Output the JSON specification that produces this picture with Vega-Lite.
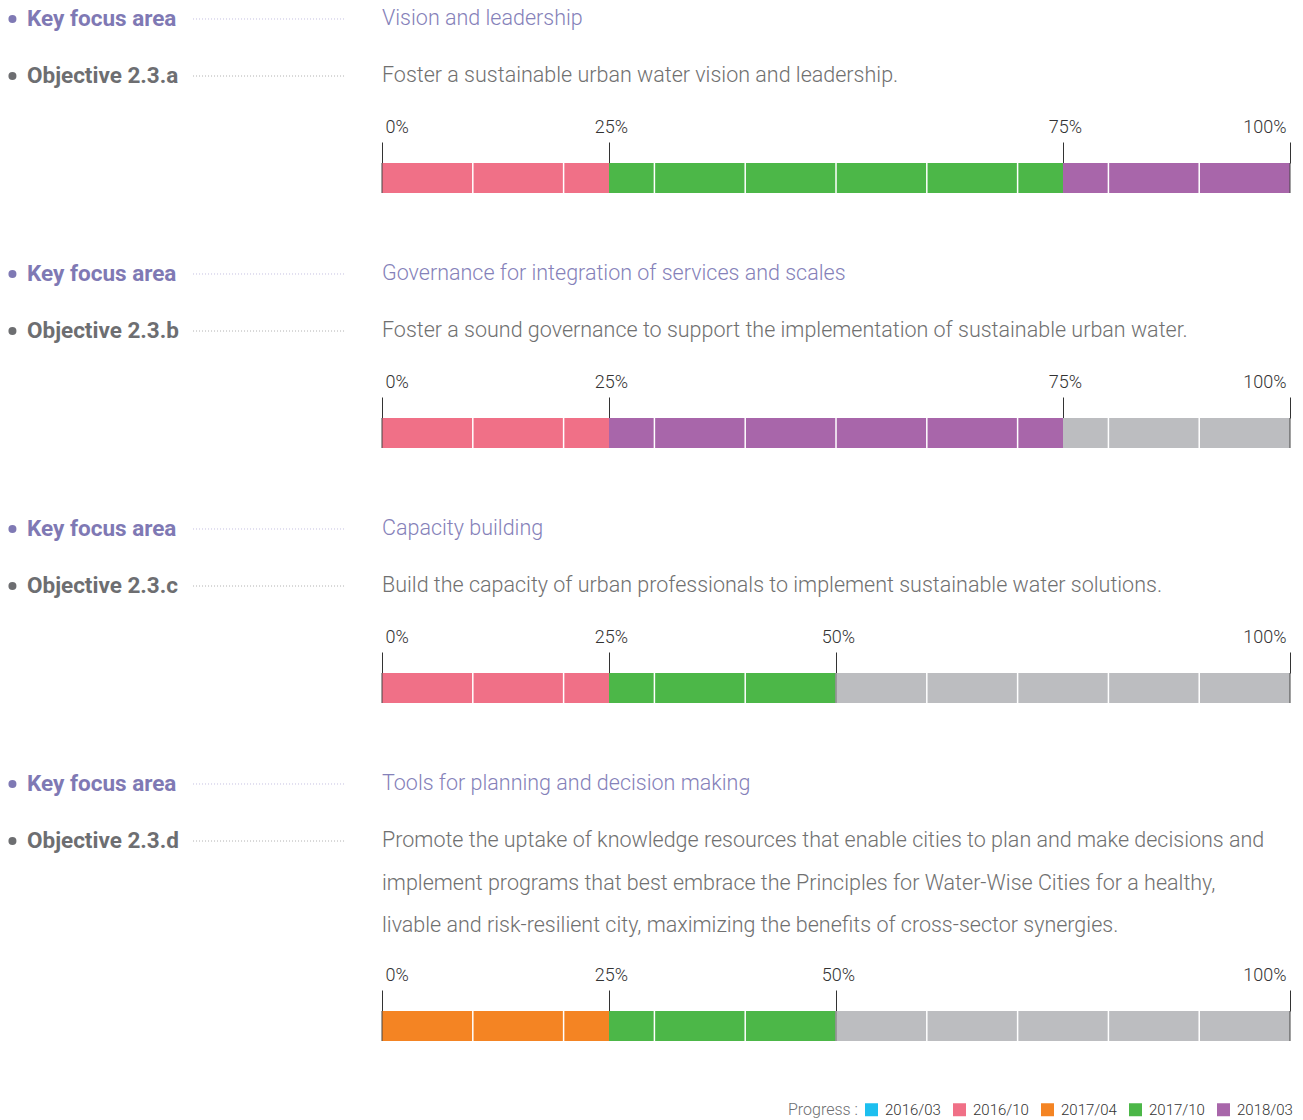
{
  "$schema": "https://vega.github.io/schema/vega-lite/v6.json",
  "padding": 0,
  "background": "white",
  "spacing": 61,
  "config": {
    "view": {"stroke": null},
    "font": "Roboto, sans-serif"
  },
  "datasets": {
    "texts": [
      {"block": "a", "row": "key", "label": "Key focus area", "text": "Vision and leadership"},
      {"block": "a", "row": "obj", "label": "Objective 2.3.a", "text": "Foster a sustainable urban water vision and leadership."},
      {"block": "b", "row": "key", "label": "Key focus area", "text": "Governance for integration of services and scales"},
      {"block": "b", "row": "obj", "label": "Objective 2.3.b", "text": "Foster a sound governance to support the implementation of sustainable urban water."},
      {"block": "c", "row": "key", "label": "Key focus area", "text": "Capacity building"},
      {"block": "c", "row": "obj", "label": "Objective 2.3.c", "text": "Build the capacity of urban professionals to implement sustainable water solutions."},
      {"block": "d", "row": "key", "label": "Key focus area", "text": "Tools for planning and decision making"},
      {"block": "d", "row": "obj", "label": "Objective 2.3.d", "text": "Promote the uptake of knowledge resources that enable cities to plan and make decisions and\nimplement programs that best embrace the Principles for Water-Wise Cities for a healthy,\nlivable and risk-resilient city, maximizing the benefits of cross-sector synergies."}
    ],
    "segments": [
      {"block": "a", "start": 0, "end": 25, "period": "2016/10"},
      {"block": "a", "start": 25, "end": 75, "period": "2017/10"},
      {"block": "a", "start": 75, "end": 100, "period": "2018/03"},
      {"block": "b", "start": 0, "end": 25, "period": "2016/10"},
      {"block": "b", "start": 25, "end": 75, "period": "2018/03"},
      {"block": "b", "start": 75, "end": 100, "period": "remaining"},
      {"block": "c", "start": 0, "end": 25, "period": "2016/10"},
      {"block": "c", "start": 25, "end": 50, "period": "2017/10"},
      {"block": "c", "start": 50, "end": 100, "period": "remaining"},
      {"block": "d", "start": 0, "end": 25, "period": "2017/04"},
      {"block": "d", "start": 25, "end": 50, "period": "2017/10"},
      {"block": "d", "start": 50, "end": 100, "period": "remaining"}
    ],
    "grid": [{"pct": 10}, {"pct": 20}, {"pct": 30}, {"pct": 40}, {"pct": 50}, {"pct": 60}, {"pct": 70}, {"pct": 80}, {"pct": 90}],
    "edges": [
      {"block": "a", "pct": 0}, {"block": "a", "pct": 100},
      {"block": "b", "pct": 0}, {"block": "b", "pct": 100},
      {"block": "c", "pct": 0}, {"block": "c", "pct": 50}, {"block": "c", "pct": 100},
      {"block": "d", "pct": 0}, {"block": "d", "pct": 50}, {"block": "d", "pct": 100}
    ]
  },
  "resolve": {"scale": {"x": "independent", "color": "shared"}, "axis": {"x": "independent"}},
  "vconcat": [
    {
      "spacing": 23,
      "resolve": {"scale": {"x": "independent"}, "axis": {"x": "independent"}},
      "vconcat": [
        {
          "width": 1303, "height": 95,
          "data": {"name": "texts"},
          "transform": [{"filter": "datum.block == 'a'"}],
          "encoding": {"y": {"field": "row", "type": "nominal", "scale": {"type": "point", "domain": ["key", "obj"], "padding": 0.3333}, "axis": null}},
          "layer": [
            {"mark": {"type": "point", "shape": "circle", "filled": true, "size": 64, "opacity": 1},
             "encoding": {"x": {"datum": -40.7, "type": "quantitative", "scale": {"domain": [-42.07, 101.43], "nice": false, "zero": false}, "axis": null},
               "color": {"condition": {"test": "datum.row == 'key'", "value": "#7f79b4"}, "value": "#6d6e71"}}},
            {"mark": {"type": "text", "align": "left", "baseline": "middle", "fontSize": 22.5, "fontWeight": "bold"},
             "encoding": {"x": {"datum": -39.1, "type": "quantitative", "axis": null}, "text": {"field": "label"},
               "color": {"condition": {"test": "datum.row == 'key'", "value": "#7f79b4"}, "value": "#6d6e71"}}},
            {"mark": {"type": "rule", "strokeDash": [1, 2], "strokeWidth": 1},
             "encoding": {"x": {"datum": -20.81, "type": "quantitative", "axis": null}, "x2": {"datum": -4.07},
               "color": {"condition": {"test": "datum.row == 'key'", "value": "#c3bfe0"}, "value": "#b0b0b0"}}},
            {"mark": {"type": "text", "align": "left", "baseline": "middle", "fontSize": 21.5, "fontWeight": 300, "lineBreak": "\n", "lineHeight": 42.5},
             "encoding": {"x": {"datum": 0, "type": "quantitative", "axis": null}, "text": {"field": "text"},
               "color": {"condition": {"test": "datum.row == 'key'", "value": "#8581b9"}, "value": "#707070"}}}
          ]
        },
        {
          "width": 1303, "height": 30,
          "layer": [
            {"data": {"name": "segments"}, "transform": [{"filter": "datum.block == 'a'"}],
             "mark": {"type": "rect"},
             "encoding": {
               "x": {"field": "start", "type": "quantitative", "scale": {"domain": [-42.07, 101.43], "nice": false, "zero": false},
                 "axis": {"orient": "top", "values": [0, 25, 75, 100], "labelExpr": "datum.value + '%'", "title": null, "domain": false, "grid": false, "tickSize": 21, "tickColor": "#333333", "tickWidth": 1, "labelFontSize": 18, "labelFontWeight": 300, "labelColor": "#333333", "labelPadding": 6, "labelFlush": false,
                   "labelAlign": {"condition": [{"test": "datum.value <= 0", "value": "left"}, {"test": "datum.value >= 100", "value": "right"}], "value": "center"},
                   "labelOffset": {"condition": [{"test": "datum.value <= 0", "value": 3}, {"test": "datum.value >= 100", "value": -4}], "value": 2}}},
               "x2": {"field": "end"},
               "color": {"field": "period", "type": "nominal",
                 "scale": {"domain": ["2016/03", "2016/10", "2017/04", "2017/10", "2018/03", "remaining"], "range": ["#1dbfef", "#f07087", "#f48423", "#4cb748", "#a866aa", "#bcbdc0"]},
                 "legend": {"orient": "none", "legendX": 788, "legendY": 1102, "direction": "horizontal", "title": "Progress :", "titleOrient": "left", "titleFontSize": 16, "titleFontWeight": 300, "titleColor": "#6d6e71", "titlePadding": 6, "labelFontSize": 15, "labelFontWeight": 300, "labelColor": "#333333", "symbolType": "square", "symbolSize": 169, "symbolStrokeWidth": 0, "symbolOpacity": 1, "labelOffset": 6, "columnPadding": 11, "values": ["2016/03", "2016/10", "2017/04", "2017/10", "2018/03"]}}
             }},
            {"data": {"name": "grid"}, "mark": {"type": "rule", "color": "white", "strokeWidth": 1.5}, "encoding": {"x": {"field": "pct", "type": "quantitative"}}},
            {"data": {"name": "edges"}, "transform": [{"filter": "datum.block == 'a'"}], "mark": {"type": "rule", "color": "#444444", "strokeWidth": 1}, "encoding": {"x": {"field": "pct", "type": "quantitative"}}}
          ]
        }
      ]
    },
    {
      "spacing": 23,
      "resolve": {"scale": {"x": "independent"}, "axis": {"x": "independent"}},
      "vconcat": [
        {
          "width": 1303, "height": 95,
          "data": {"name": "texts"},
          "transform": [{"filter": "datum.block == 'b'"}],
          "encoding": {"y": {"field": "row", "type": "nominal", "scale": {"type": "point", "domain": ["key", "obj"], "padding": 0.3333}, "axis": null}},
          "layer": [
            {"mark": {"type": "point", "shape": "circle", "filled": true, "size": 64, "opacity": 1},
             "encoding": {"x": {"datum": -40.7, "type": "quantitative", "scale": {"domain": [-42.07, 101.43], "nice": false, "zero": false}, "axis": null},
               "color": {"condition": {"test": "datum.row == 'key'", "value": "#7f79b4"}, "value": "#6d6e71"}}},
            {"mark": {"type": "text", "align": "left", "baseline": "middle", "fontSize": 22.5, "fontWeight": "bold"},
             "encoding": {"x": {"datum": -39.1, "type": "quantitative", "axis": null}, "text": {"field": "label"},
               "color": {"condition": {"test": "datum.row == 'key'", "value": "#7f79b4"}, "value": "#6d6e71"}}},
            {"mark": {"type": "rule", "strokeDash": [1, 2], "strokeWidth": 1},
             "encoding": {"x": {"datum": -20.81, "type": "quantitative", "axis": null}, "x2": {"datum": -4.07},
               "color": {"condition": {"test": "datum.row == 'key'", "value": "#c3bfe0"}, "value": "#b0b0b0"}}},
            {"mark": {"type": "text", "align": "left", "baseline": "middle", "fontSize": 21.5, "fontWeight": 300, "lineBreak": "\n", "lineHeight": 42.5},
             "encoding": {"x": {"datum": 0, "type": "quantitative", "axis": null}, "text": {"field": "text"},
               "color": {"condition": {"test": "datum.row == 'key'", "value": "#8581b9"}, "value": "#707070"}}}
          ]
        },
        {
          "width": 1303, "height": 30,
          "layer": [
            {"data": {"name": "segments"}, "transform": [{"filter": "datum.block == 'b'"}],
             "mark": {"type": "rect"},
             "encoding": {
               "x": {"field": "start", "type": "quantitative", "scale": {"domain": [-42.07, 101.43], "nice": false, "zero": false},
                 "axis": {"orient": "top", "values": [0, 25, 75, 100], "labelExpr": "datum.value + '%'", "title": null, "domain": false, "grid": false, "tickSize": 21, "tickColor": "#333333", "tickWidth": 1, "labelFontSize": 18, "labelFontWeight": 300, "labelColor": "#333333", "labelPadding": 6, "labelFlush": false,
                   "labelAlign": {"condition": [{"test": "datum.value <= 0", "value": "left"}, {"test": "datum.value >= 100", "value": "right"}], "value": "center"},
                   "labelOffset": {"condition": [{"test": "datum.value <= 0", "value": 3}, {"test": "datum.value >= 100", "value": -4}], "value": 2}}},
               "x2": {"field": "end"},
               "color": {"field": "period", "type": "nominal",
                 "scale": {"domain": ["2016/03", "2016/10", "2017/04", "2017/10", "2018/03", "remaining"], "range": ["#1dbfef", "#f07087", "#f48423", "#4cb748", "#a866aa", "#bcbdc0"]},
                 "legend": {"orient": "none", "legendX": 788, "legendY": 1102, "direction": "horizontal", "title": "Progress :", "titleOrient": "left", "titleFontSize": 16, "titleFontWeight": 300, "titleColor": "#6d6e71", "titlePadding": 6, "labelFontSize": 15, "labelFontWeight": 300, "labelColor": "#333333", "symbolType": "square", "symbolSize": 169, "symbolStrokeWidth": 0, "symbolOpacity": 1, "labelOffset": 6, "columnPadding": 11, "values": ["2016/03", "2016/10", "2017/04", "2017/10", "2018/03"]}}
             }},
            {"data": {"name": "grid"}, "mark": {"type": "rule", "color": "white", "strokeWidth": 1.5}, "encoding": {"x": {"field": "pct", "type": "quantitative"}}},
            {"data": {"name": "edges"}, "transform": [{"filter": "datum.block == 'b'"}], "mark": {"type": "rule", "color": "#444444", "strokeWidth": 1}, "encoding": {"x": {"field": "pct", "type": "quantitative"}}}
          ]
        }
      ]
    },
    {
      "spacing": 23,
      "resolve": {"scale": {"x": "independent"}, "axis": {"x": "independent"}},
      "vconcat": [
        {
          "width": 1303, "height": 95,
          "data": {"name": "texts"},
          "transform": [{"filter": "datum.block == 'c'"}],
          "encoding": {"y": {"field": "row", "type": "nominal", "scale": {"type": "point", "domain": ["key", "obj"], "padding": 0.3333}, "axis": null}},
          "layer": [
            {"mark": {"type": "point", "shape": "circle", "filled": true, "size": 64, "opacity": 1},
             "encoding": {"x": {"datum": -40.7, "type": "quantitative", "scale": {"domain": [-42.07, 101.43], "nice": false, "zero": false}, "axis": null},
               "color": {"condition": {"test": "datum.row == 'key'", "value": "#7f79b4"}, "value": "#6d6e71"}}},
            {"mark": {"type": "text", "align": "left", "baseline": "middle", "fontSize": 22.5, "fontWeight": "bold"},
             "encoding": {"x": {"datum": -39.1, "type": "quantitative", "axis": null}, "text": {"field": "label"},
               "color": {"condition": {"test": "datum.row == 'key'", "value": "#7f79b4"}, "value": "#6d6e71"}}},
            {"mark": {"type": "rule", "strokeDash": [1, 2], "strokeWidth": 1},
             "encoding": {"x": {"datum": -20.81, "type": "quantitative", "axis": null}, "x2": {"datum": -4.07},
               "color": {"condition": {"test": "datum.row == 'key'", "value": "#c3bfe0"}, "value": "#b0b0b0"}}},
            {"mark": {"type": "text", "align": "left", "baseline": "middle", "fontSize": 21.5, "fontWeight": 300, "lineBreak": "\n", "lineHeight": 42.5},
             "encoding": {"x": {"datum": 0, "type": "quantitative", "axis": null}, "text": {"field": "text"},
               "color": {"condition": {"test": "datum.row == 'key'", "value": "#8581b9"}, "value": "#707070"}}}
          ]
        },
        {
          "width": 1303, "height": 30,
          "layer": [
            {"data": {"name": "segments"}, "transform": [{"filter": "datum.block == 'c'"}],
             "mark": {"type": "rect"},
             "encoding": {
               "x": {"field": "start", "type": "quantitative", "scale": {"domain": [-42.07, 101.43], "nice": false, "zero": false},
                 "axis": {"orient": "top", "values": [0, 25, 50, 100], "labelExpr": "datum.value + '%'", "title": null, "domain": false, "grid": false, "tickSize": 21, "tickColor": "#333333", "tickWidth": 1, "labelFontSize": 18, "labelFontWeight": 300, "labelColor": "#333333", "labelPadding": 6, "labelFlush": false,
                   "labelAlign": {"condition": [{"test": "datum.value <= 0", "value": "left"}, {"test": "datum.value >= 100", "value": "right"}], "value": "center"},
                   "labelOffset": {"condition": [{"test": "datum.value <= 0", "value": 3}, {"test": "datum.value >= 100", "value": -4}], "value": 2}}},
               "x2": {"field": "end"},
               "color": {"field": "period", "type": "nominal",
                 "scale": {"domain": ["2016/03", "2016/10", "2017/04", "2017/10", "2018/03", "remaining"], "range": ["#1dbfef", "#f07087", "#f48423", "#4cb748", "#a866aa", "#bcbdc0"]},
                 "legend": {"orient": "none", "legendX": 788, "legendY": 1102, "direction": "horizontal", "title": "Progress :", "titleOrient": "left", "titleFontSize": 16, "titleFontWeight": 300, "titleColor": "#6d6e71", "titlePadding": 6, "labelFontSize": 15, "labelFontWeight": 300, "labelColor": "#333333", "symbolType": "square", "symbolSize": 169, "symbolStrokeWidth": 0, "symbolOpacity": 1, "labelOffset": 6, "columnPadding": 11, "values": ["2016/03", "2016/10", "2017/04", "2017/10", "2018/03"]}}
             }},
            {"data": {"name": "grid"}, "mark": {"type": "rule", "color": "white", "strokeWidth": 1.5}, "encoding": {"x": {"field": "pct", "type": "quantitative"}}},
            {"data": {"name": "edges"}, "transform": [{"filter": "datum.block == 'c'"}], "mark": {"type": "rule", "color": "#444444", "strokeWidth": 1}, "encoding": {"x": {"field": "pct", "type": "quantitative"}}}
          ]
        }
      ]
    },
    {
      "spacing": 29,
      "resolve": {"scale": {"x": "independent"}, "axis": {"x": "independent"}},
      "vconcat": [
        {
          "width": 1303, "height": 95,
          "data": {"name": "texts"},
          "transform": [{"filter": "datum.block == 'd'"}],
          "encoding": {"y": {"field": "row", "type": "nominal", "scale": {"type": "point", "domain": ["key", "obj"], "padding": 0.3333}, "axis": null}},
          "layer": [
            {"mark": {"type": "point", "shape": "circle", "filled": true, "size": 64, "opacity": 1},
             "encoding": {"x": {"datum": -40.7, "type": "quantitative", "scale": {"domain": [-42.07, 101.43], "nice": false, "zero": false}, "axis": null},
               "color": {"condition": {"test": "datum.row == 'key'", "value": "#7f79b4"}, "value": "#6d6e71"}}},
            {"mark": {"type": "text", "align": "left", "baseline": "middle", "fontSize": 22.5, "fontWeight": "bold"},
             "encoding": {"x": {"datum": -39.1, "type": "quantitative", "axis": null}, "text": {"field": "label"},
               "color": {"condition": {"test": "datum.row == 'key'", "value": "#7f79b4"}, "value": "#6d6e71"}}},
            {"mark": {"type": "rule", "strokeDash": [1, 2], "strokeWidth": 1},
             "encoding": {"x": {"datum": -20.81, "type": "quantitative", "axis": null}, "x2": {"datum": -4.07},
               "color": {"condition": {"test": "datum.row == 'key'", "value": "#c3bfe0"}, "value": "#b0b0b0"}}},
            {"mark": {"type": "text", "align": "left", "baseline": "middle", "fontSize": 21.5, "fontWeight": 300, "lineBreak": "\n", "lineHeight": 42.5},
             "encoding": {"x": {"datum": 0, "type": "quantitative", "axis": null}, "text": {"field": "text"},
               "color": {"condition": {"test": "datum.row == 'key'", "value": "#8581b9"}, "value": "#707070"}}}
          ]
        },
        {
          "width": 1303, "height": 30,
          "layer": [
            {"data": {"name": "segments"}, "transform": [{"filter": "datum.block == 'd'"}],
             "mark": {"type": "rect"},
             "encoding": {
               "x": {"field": "start", "type": "quantitative", "scale": {"domain": [-42.07, 101.43], "nice": false, "zero": false},
                 "axis": {"orient": "top", "values": [0, 25, 50, 100], "labelExpr": "datum.value + '%'", "title": null, "domain": false, "grid": false, "tickSize": 21, "tickColor": "#333333", "tickWidth": 1, "labelFontSize": 18, "labelFontWeight": 300, "labelColor": "#333333", "labelPadding": 6, "labelFlush": false,
                   "labelAlign": {"condition": [{"test": "datum.value <= 0", "value": "left"}, {"test": "datum.value >= 100", "value": "right"}], "value": "center"},
                   "labelOffset": {"condition": [{"test": "datum.value <= 0", "value": 3}, {"test": "datum.value >= 100", "value": -4}], "value": 2}}},
               "x2": {"field": "end"},
               "color": {"field": "period", "type": "nominal",
                 "scale": {"domain": ["2016/03", "2016/10", "2017/04", "2017/10", "2018/03", "remaining"], "range": ["#1dbfef", "#f07087", "#f48423", "#4cb748", "#a866aa", "#bcbdc0"]},
                 "legend": {"orient": "none", "legendX": 788, "legendY": 1102, "direction": "horizontal", "title": "Progress :", "titleOrient": "left", "titleFontSize": 16, "titleFontWeight": 300, "titleColor": "#6d6e71", "titlePadding": 6, "labelFontSize": 15, "labelFontWeight": 300, "labelColor": "#333333", "symbolType": "square", "symbolSize": 169, "symbolStrokeWidth": 0, "symbolOpacity": 1, "labelOffset": 6, "columnPadding": 11, "values": ["2016/03", "2016/10", "2017/04", "2017/10", "2018/03"]}}
             }},
            {"data": {"name": "grid"}, "mark": {"type": "rule", "color": "white", "strokeWidth": 1.5}, "encoding": {"x": {"field": "pct", "type": "quantitative"}}},
            {"data": {"name": "edges"}, "transform": [{"filter": "datum.block == 'd'"}], "mark": {"type": "rule", "color": "#444444", "strokeWidth": 1}, "encoding": {"x": {"field": "pct", "type": "quantitative"}}}
          ]
        }
      ]
    }
  ]
}
